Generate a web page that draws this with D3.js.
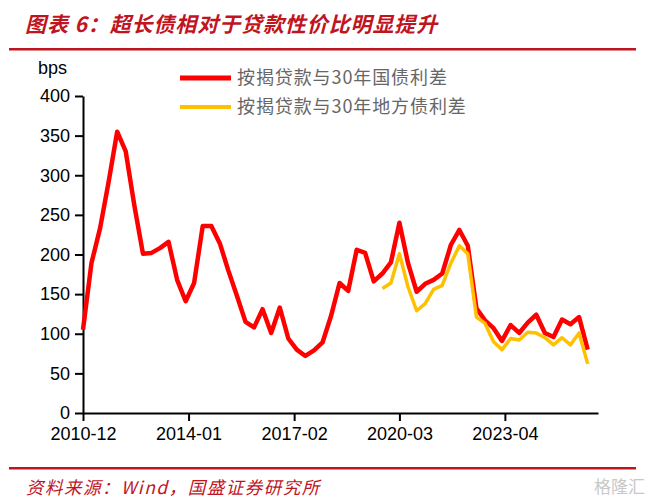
<!DOCTYPE html>
<html>
<head>
<meta charset="utf-8">
<script src="https://cdn.jsdelivr.net/npm/d3@7"></script>
<style>
  html, body { margin: 0; padding: 0; background: #fff; }
  svg { display: block; }
</style>
</head>
<body>
<script>
// ---- data ----
const dates = ["2010-12","2011-03","2011-06","2011-09","2011-12","2012-03","2012-06","2012-09","2012-12","2013-03",
  "2013-06","2013-09","2013-12","2014-03","2014-06","2014-09","2014-12","2015-03","2015-06","2015-09",
  "2015-12","2016-03","2016-06","2016-09","2016-12","2017-03","2017-06","2017-09","2017-12","2018-03",
  "2018-06","2018-09","2018-12","2019-03","2019-06","2019-09","2019-12","2020-03","2020-06","2020-09",
  "2020-12","2021-03","2021-06","2021-09","2021-12","2022-03","2022-06","2022-09","2022-12","2023-03",
  "2023-06","2023-09","2023-12","2024-03","2024-06","2024-09","2024-12","2025-03","2025-06","2025-09"];
const spreadGov = [105,189,233,292,355,330,262,201,202,208,
  216,168,141,164,236,236,214,180,148,115,
  108,131,101,133,94,80,72,79,89,122,
  164,154,206,202,166,176,190,240,189,153,
  163,168,176,212,231,211,132,117,107,91,
  111,101,114,124,101,96,118,112,121,80];
const spreadLocal = [null,null,null,null,null,null,null,null,null,null,
  null,null,null,null,null,null,null,null,null,null,
  null,null,null,null,null,null,null,null,null,null,
  null,null,null,null,null,157,164,201,159,129,
  138,156,161,189,211,201,121,113,90,80,
  94,92,102,101,95,86,95,86,101,62];
const seriesNames = ["按揭贷款与30年国债利差", "按揭贷款与30年地方债利差"];
const seriesColors = ["#FF0000", "#FFC000"];
const xTickLabels = ["2010-12","2014-01","2017-02","2020-03","2023-04"];
const yTicks = [0,50,100,150,200,250,300,350,400];
const titleText = "图表 6：超长债相对于贷款性价比明显提升";
const sourceText = "资料来源：Wind，国盛证券研究所";
const unitLabel = "bps";

// ---- drawing ----
const W = 648, H = 498;
const parse = d3.timeParse("%Y-%m");
const svg = d3.select("body").append("svg").attr("width", W).attr("height", H);

const darkRed = "#C0141E";
const axisFont = "'Liberation Sans', Arial, sans-serif";
const cjkFont = "'Noto Sans CJK SC', sans-serif";

// title
svg.append("text")
  .attr("x", 25).attr("y", 32)
  .attr("fill", darkRed)
  .attr("font-family", cjkFont)
  .attr("font-size", 21)
  .attr("font-weight", "bold")
  .attr("font-style", "italic")
  .attr("letter-spacing", 0.9)
  .text(titleText);
svg.append("rect").attr("x", 9).attr("y", 48).attr("width", 627).attr("height", 2.5).attr("fill", darkRed);

// bottom rule + source
svg.append("rect").attr("x", 9).attr("y", 467).attr("width", 627).attr("height", 2.5).attr("fill", darkRed);
svg.append("text")
  .attr("x", 26).attr("y", 494)
  .attr("fill", darkRed)
  .attr("font-family", cjkFont)
  .attr("font-size", 17.5)
  .attr("font-style", "italic")
  .attr("letter-spacing", 1.5)
  .text(sourceText);
// watermark
svg.append("text")
  .attr("x", 645).attr("y", 493)
  .attr("text-anchor", "end")
  .attr("fill", "#c8c8c8")
  .attr("font-family", cjkFont)
  .attr("font-size", 17)
  .text("格隆汇");

// scales
const x = d3.scaleTime()
  .domain([new Date(2010, 11, 1), new Date(2025, 11, 20)])
  .range([83, 598]);
const y = d3.scaleLinear().domain([0, 400]).range([413, 96]);

// axes
const xAxis = svg.append("g").attr("transform", "translate(0,413)")
  .call(d3.axisBottom(x)
    .tickValues(xTickLabels.map(parse))
    .tickFormat(d3.timeFormat("%Y-%m"))
    .tickSize(8).tickSizeOuter(0).tickPadding(6));
const yAxis = svg.append("g").attr("transform", "translate(83,0)")
  .call(d3.axisLeft(y).tickValues(yTicks).tickSize(8).tickSizeOuter(0).tickPadding(5));

[xAxis, yAxis].forEach(g => {
  g.select(".domain").attr("stroke", "#000").attr("stroke-width", 2);
  g.selectAll(".tick line").attr("stroke", "#000").attr("stroke-width", 2);
  g.selectAll(".tick text").attr("fill", "#000")
    .attr("font-family", axisFont).attr("font-size", 18);
});

svg.append("text")
  .attr("x", 38).attr("y", 74)
  .attr("font-family", axisFont).attr("font-size", 18).attr("fill", "#000")
  .text(unitLabel);

// lines
const allSeries = [spreadGov, spreadLocal];
const widths = [4.5, 3.5];
allSeries.forEach((vals, i) => {
  const pts = dates.map((d, j) => ({ date: parse(d), v: vals[j] }));
  const line = d3.line()
    .defined(p => p.v !== null)
    .x(p => x(p.date))
    .y(p => y(p.v));
  svg.append("path")
    .datum(pts)
    .attr("fill", "none")
    .attr("stroke", seriesColors[i])
    .attr("stroke-width", widths[i])
    .attr("stroke-linejoin", "round")
    .attr("stroke-linecap", "butt")
    .attr("d", line);
});

// legend
const legendY = [78, 107];
seriesNames.forEach((name, i) => {
  svg.append("line")
    .attr("x1", 180).attr("x2", 231)
    .attr("y1", legendY[i]).attr("y2", legendY[i])
    .attr("stroke", seriesColors[i]).attr("stroke-width", widths[i] + 0.5);
  svg.append("text")
    .attr("x", 237).attr("y", legendY[i] + 6)
    .attr("fill", "#666666")
    .attr("font-family", cjkFont)
    .attr("font-size", 18)
    .attr("letter-spacing", 0.9)
    .text(name);
});
</script>
</body>
</html>
